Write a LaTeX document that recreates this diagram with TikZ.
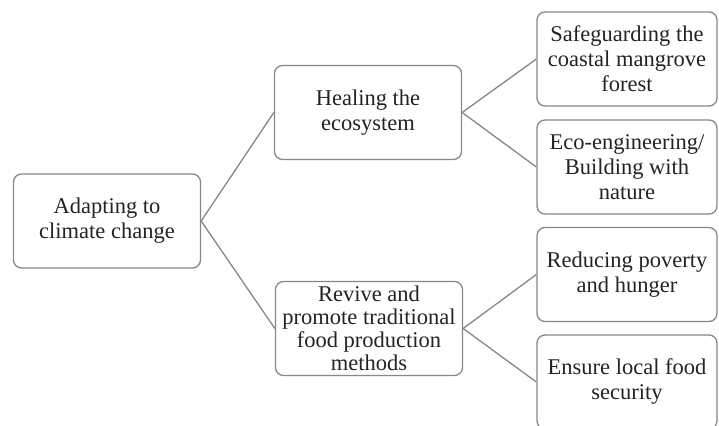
\documentclass[tikz,border=0pt]{standalone}
\usepackage{fontspec}
\setmainfont{Liberation Serif}
\begin{document}
\begin{tikzpicture}[x=1pt,y=-1pt,
  box/.style={draw=boxgray, line width=1.3pt, rounded corners=8pt,
    inner sep=0pt, minimum height=94pt, align=center, text=textdark,
    font=\fontsize{22.5}{25}\selectfont},
  wide/.style={minimum width=187pt},
  leaf/.style={minimum width=180pt},
  link/.style={draw=boxgray, line width=1.3pt}]
\definecolor{boxgray}{RGB}{135,135,135}
\definecolor{textdark}{RGB}{35,35,35}
\useasboundingbox (0,0) rectangle (719,425);

% root and second level
\node[box,wide] (root) at (107,221) {Adapting to\\climate change};
\node[box,wide] (heal) at (368,112.5) {Healing the\\ecosystem};
\node[box,wide,font=\fontsize{22.5}{23}\selectfont] (revive) at (369,328.5)
  {Revive and\\promote traditional\\food production\\methods};

% leaves
\node[box,leaf] (safe) at (627,59) {Safeguarding the\\coastal mangrove\\forest};
\node[box,leaf] (eco) at (627,167) {Eco-engineering/\\Building with\\nature};
\node[box,leaf] (reduce) at (627,274.5) {Reducing poverty\\and hunger};
\node[box,leaf] (ensure) at (627,382) {Ensure local food\\security};

% connectors
\draw[link] (root.east) -- (heal.west);
\draw[link] (root.east) -- (revive.west);
\draw[link] (heal.east) -- (safe.west);
\draw[link] (heal.east) -- (eco.west);
\draw[link] (revive.east) -- (reduce.west);
\draw[link] (revive.east) -- (ensure.west);
\end{tikzpicture}
\end{document}
